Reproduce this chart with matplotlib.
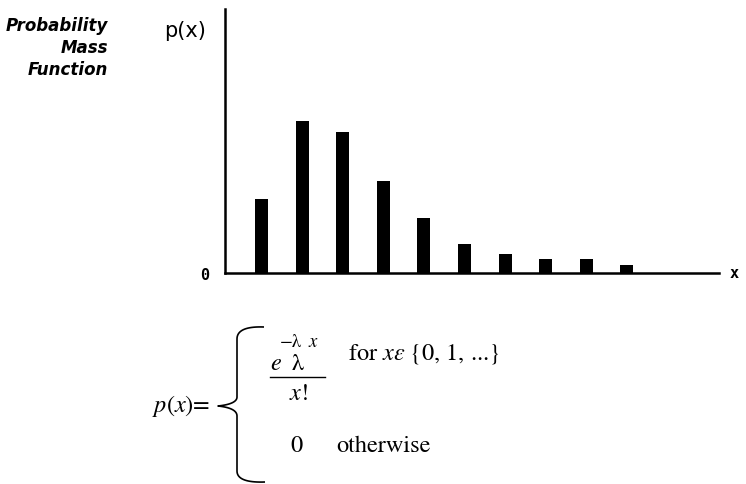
import numpy as np
import matplotlib
matplotlib.use("Agg")
import matplotlib.pyplot as plt
from matplotlib.lines import Line2D

plt.rcParams['mathtext.fontset'] = 'stix'

# ---- data ----
categories = list(range(10))
probabilities = [0.124, 0.254, 0.236, 0.154, 0.092, 0.048, 0.032, 0.023, 0.023, 0.013]
title_lines = ["Probability", "Mass", "Function"]
y_label = "p(x)"
x_label = "x"
y_tick_labels = ["0"]

W, H = 746, 485
fig = plt.figure(figsize=(W / 100, H / 100), dpi=100)


def fx(x):
    return x / W


def fy(y):
    return 1 - y / H


# axes placed in pixel terms
ax = fig.add_axes([fx(225), fy(274), (719 - 225) / W, 264 / H])
ax.bar(categories, probabilities, width=0.32, color='black')
ax.set_xlim(-0.899, 11.27)
ax.set_ylim(0, 0.4415)
for s in ['top', 'right']:
    ax.spines[s].set_visible(False)
for s in ['left', 'bottom']:
    ax.spines[s].set_linewidth(1.8)
    ax.spines[s].set_color('black')
ax.set_xticks([])
ax.set_yticks([0])
ax.set_yticklabels(y_tick_labels, fontfamily='DejaVu Sans Mono', fontsize=11,
                   fontweight='bold')
ax.tick_params(axis='y', length=0, pad=11)

# right-side x label
fig.text(fx(734), fy(274), x_label, ha='center', va='center',
         fontfamily='DejaVu Sans Mono', fontsize=11, fontweight='bold')

# y label
fig.text(fx(185), fy(31), y_label, ha='center', va='center',
         fontfamily='DejaVu Sans', fontsize=15)

# title block
for i, line in enumerate(title_lines):
    fig.text(fx(108), fy(26 + i * 22), line, ha='right', va='center',
             fontfamily='DejaVu Sans', fontweight='bold', fontstyle='italic',
             fontsize=12)

# ---- formula ----
fs = 17.5
sfs = 13.5
serif = 'STIXGeneral'
fig.text(fx(152), fy(412), r"$p(x)$=", ha='left', va='baseline', fontsize=fs,
         fontfamily=serif)

# numerator pieces
fig.text(fx(270), fy(370), "e", ha='left', va='baseline', fontsize=fs,
         fontfamily=serif, fontstyle='italic')
fig.text(fx(280), fy(347), "\u2212\u03bb", ha='left', va='baseline', fontsize=sfs,
         fontfamily=serif)
fig.text(fx(292), fy(370), "\u03bb", ha='left', va='baseline', fontsize=fs,
         fontfamily=serif)
fig.text(fx(309), fy(347), "x", ha='left', va='baseline', fontsize=sfs,
         fontfamily=serif, fontstyle='italic')
# denominator
fig.text(fx(299), fy(400), r"$x!$", ha='center', va='baseline', fontsize=fs)
fig.add_artist(Line2D([fx(270), fx(325)], [fy(377.5), fy(377.5)], color='black',
                      lw=1.0, transform=fig.transFigure))

fig.text(fx(348), fy(359), r"for $x\varepsilon$ {0, 1, ...}", ha='left',
         va='baseline', fontsize=fs, fontfamily=serif)
fig.text(fx(290), fy(452), "0", ha='left', va='baseline', fontsize=fs,
         fontfamily=serif)
fig.text(fx(336), fy(452), "otherwise", ha='left', va='baseline', fontsize=fs,
         fontfamily=serif)


# brace drawn as lines
def qbez(p0, p1, p2, n=20):
    t = np.linspace(0, 1, n)[:, None]
    p0, p1, p2 = map(np.array, (p0, p1, p2))
    return (1 - t) ** 2 * p0 + 2 * (1 - t) * t * p1 + t ** 2 * p2


segs = [
    qbez((264, 328), (237, 327), (237, 340)),
    np.array([(237, 340), (237, 398)]),
    qbez((237, 398), (237, 405), (218, 407)),
    qbez((218, 407), (237, 409), (237, 417)),
    np.array([(237, 417), (237, 472)]),
    qbez((237, 472), (237, 484), (265, 483)),
]
pts = np.vstack(segs)
fig.add_artist(Line2D(pts[:, 0] / W, 1 - pts[:, 1] / H, color='black', lw=1.2,
                      transform=fig.transFigure, solid_capstyle='butt'))

fig.savefig("out.png", dpi=100)
